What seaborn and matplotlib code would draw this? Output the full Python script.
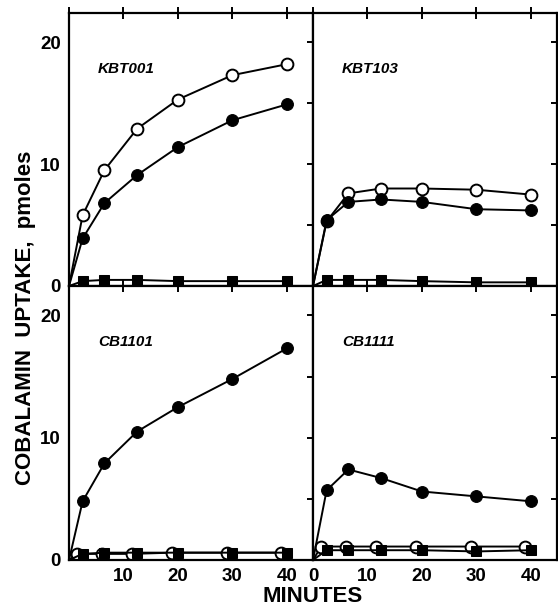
import matplotlib
matplotlib.use("Agg")
import matplotlib.pyplot as plt
import seaborn as sns

# --- data ---
minutes = [0, 2.5, 6.5, 12.5, 20, 30, 40]
minutes_open_low = [0, 1.5, 6, 11.5, 19, 29, 39]   # open circles drawn a bit to the left in lower panels

strains = ["KBT001", "KBT103", "CB1101", "CB1111"]

open_vals = {
    "KBT001": [0, 5.8, 9.5, 12.9, 15.3, 17.3, 18.2],
    "KBT103": [0, 5.3, 7.6, 8.0, 8.0, 7.9, 7.5],
    "CB1101": [0, 0.5, 0.5, 0.5, 0.6, 0.6, 0.6],
    "CB1111": [0, 1.1, 1.1, 1.1, 1.1, 1.1, 1.1],
}
filled_vals = {
    "KBT001": [0, 3.9, 6.8, 9.1, 11.4, 13.6, 14.9],
    "KBT103": [0, 5.4, 6.9, 7.1, 6.9, 6.3, 6.2],
    "CB1101": [0, 4.8, 7.9, 10.5, 12.5, 14.8, 17.3],
    "CB1111": [0, 5.7, 7.4, 6.7, 5.6, 5.2, 4.8],
}
square_vals = {
    "KBT001": [0, 0.4, 0.5, 0.5, 0.4, 0.4, 0.4],
    "KBT103": [0, 0.5, 0.5, 0.5, 0.4, 0.3, 0.3],
    "CB1101": [0, 0.5, 0.6, 0.6, 0.6, 0.6, 0.6],
    "CB1111": [0, 0.8, 0.8, 0.8, 0.8, 0.7, 0.8],
}

y_ticks = [0, 5, 10, 15, 20]
y_ticklabels = ["0", "", "10", "", "20"]
x_ticks = [0, 10, 20, 30, 40]

sns.set_style("white")
plt.rcParams['font.family'] = ['Liberation Sans', 'DejaVu Sans']
plt.rcParams['font.weight'] = 'bold'
plt.rcParams['text.color'] = 'black'
plt.rcParams['xtick.color'] = 'black'
plt.rcParams['ytick.color'] = 'black'
plt.rcParams['axes.labelcolor'] = 'black'

fig = plt.figure(figsize=(5.58, 6.09), dpi=100)
x0, xm, x1 = 69 / 558, 313 / 558, 557 / 558
y0, ym, y1 = 1 - 560 / 609, 1 - 286 / 609, 1 - 13 / 609
boxes = [
    [x0, ym, xm - x0, y1 - ym],
    [xm, ym, x1 - xm, y1 - ym],
    [x0, y0, xm - x0, ym - y0],
    [xm, y0, x1 - xm, ym - y0],
]

lw = 1.4
for i, strain in enumerate(strains):
    ax = fig.add_axes(boxes[i])
    bottom_row = i >= 2
    t_open = minutes_open_low if bottom_row else minutes

    sns.lineplot(x=t_open, y=open_vals[strain], ax=ax, color="black", lw=lw,
                 marker="o", markersize=8.5, markerfacecolor="white",
                 markeredgecolor="black", markeredgewidth=1.4, markevery=list(range(1, 7)))
    sns.lineplot(x=minutes, y=square_vals[strain], ax=ax, color="black", lw=lw,
                 marker="s", markersize=7.5, markerfacecolor="black",
                 markeredgecolor="black", markevery=list(range(1, 7)))
    sns.lineplot(x=minutes, y=filled_vals[strain], ax=ax, color="black", lw=lw,
                 marker="o", markersize=8.5, markerfacecolor="black",
                 markeredgecolor="black", markevery=list(range(1, 7)))

    ax.set_xlim(0, 44.8)
    ax.set_ylim(0, 22.4)
    ax.set_xticks(x_ticks)
    ax.set_yticks(y_ticks)
    ax.tick_params(direction="inout", length=8, width=1.4, top=True, right=True,
                   labelsize=13.5, pad=2, color="black", labelcolor="black")
    if i % 2 == 0:
        ax.set_yticklabels(y_ticklabels, fontweight="bold")
    else:
        ax.set_yticklabels([])
    if bottom_row:
        labels = ["", "10", "20", "30", "40"] if i == 2 else ["0", "10", "20", "30", "40"]
        ax.set_xticklabels(labels, fontweight="bold")
    else:
        ax.set_xticklabels([])
    for sp in ax.spines.values():
        sp.set_linewidth(1.6)
        sp.set_color("black")
    ax.set_xlabel("")
    ax.set_ylabel("")
    ax.text(5.3, 17.8, strain, fontsize=11, fontweight="bold", fontstyle="italic",
            va="center", ha="left", color="black")

fig.text(0.045, 0.478, "COBALAMIN  UPTAKE,  pmoles", rotation=90, fontsize=16,
         fontweight="bold", ha="center", va="center", color="black")
fig.text(xm, 0.02, "MINUTES", fontsize=16, fontweight="bold", ha="center", va="center",
         color="black")

fig.savefig("out.png", dpi=100)
